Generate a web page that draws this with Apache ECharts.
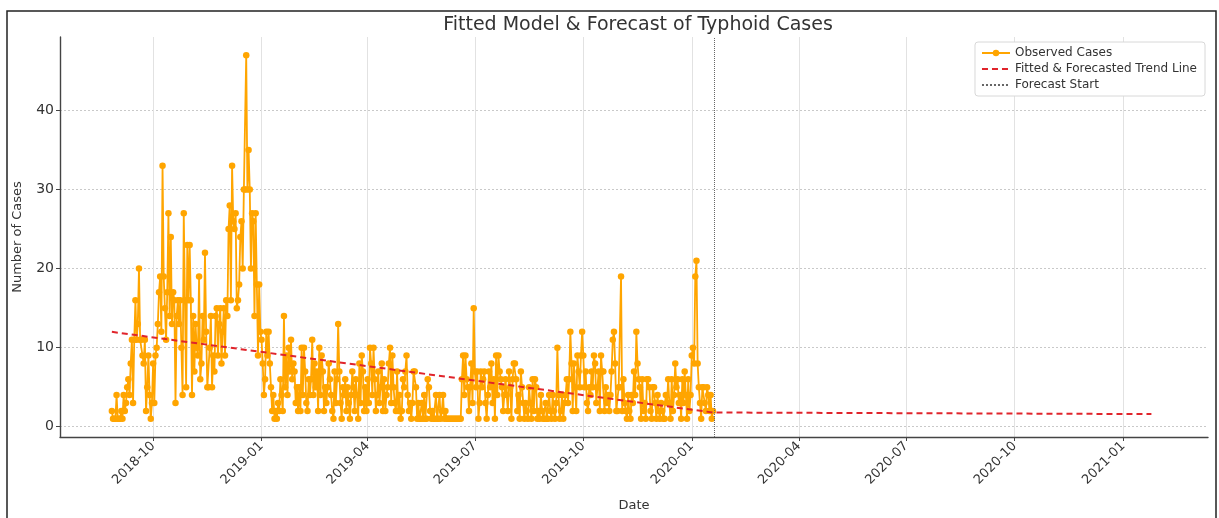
<!DOCTYPE html>
<html><head><meta charset="utf-8">
<script src="https://cdn.jsdelivr.net/npm/echarts@6/dist/echarts.min.js"></script>
<style>html,body{margin:0;padding:0;background:#fff}#c{width:1219px;height:518px}</style>
</head><body><div id="c"></div>
<script>
// ---- data ----
const observedStart = '2018-08-27';
const observedCases = [
  2, 1, 1, 1, 4, // Aug 2018 (27-31)
  1, 1, 1, 2, 1, 4, 2, 3, 5, 6, 4, 8, 11, 3, 11, 16, 11, 13, 20, 11, 11, 9, 8, 11, 2, 5, 9, 4, 1, 3, // Sep
  8, 3, 9, 10, 13, 17, 19, 12, 33, 19, 15, 11, 17, 27, 14, 24, 13, 17, 16, 3, 14, 16, 13, 16, 10, 4, 27, 16, 5, 23, 16, // Oct
  23, 16, 4, 14, 7, 13, 10, 9, 19, 6, 8, 14, 11, 22, 12, 5, 5, 10, 14, 5, 9, 7, 14, 15, 9, 13, 15, 8, 12, 15, // Nov
  9, 16, 14, 25, 28, 16, 33, 26, 25, 27, 15, 16, 18, 24, 26, 20, 30, 30, 47, 30, 35, 30, 20, 27, 26, 14, 27, 18, 9, 18, 12, // Dec
  11, 8, 4, 6, 12, 9, 12, 8, 5, 2, 4, 1, 2, 1, 3, 2, 6, 4, 2, 14, 5, 9, 4, 10, 7, 11, 6, 8, 7, 3, 5, // Jan 2019
  2, 5, 2, 10, 4, 10, 7, 3, 2, 6, 4, 6, 11, 4, 8, 5, 7, 2, 10, 4, 9, 7, 2, 5, 3, 5, 8, 6, // Feb
  4, 2, 1, 7, 3, 6, 13, 7, 3, 1, 5, 4, 6, 2, 5, 3, 1, 4, 7, 5, 2, 6, 4, 1, 8, 3, 9, 7, 2, 5, 2, // Mar
  6, 3, 10, 8, 4, 10, 6, 2, 4, 7, 3, 5, 8, 2, 6, 2, 4, 5, 8, 10, 3, 9, 5, 3, 2, 7, 2, 4, 1, 2, // Apr
  6, 5, 7, 9, 4, 2, 3, 1, 3, 7, 7, 5, 1, 3, 1, 1, 3, 1, 4, 1, 1, 6, 5, 2, 1, 2, 1, 1, 4, 1, 1, // May
  4, 1, 2, 4, 1, 2, 1, 1, 1, 1, 1, 1, 1, 1, 1, 1, 1, 1, 1, 6, 9, 4, 9, 6, 5, 2, 5, 8, 3, 15, // Jun
  7, 5, 7, 1, 3, 7, 5, 6, 7, 3, 1, 4, 7, 5, 8, 3, 6, 1, 9, 4, 9, 7, 6, 5, 2, 4, 6, 4, 2, 7, 5, // Jul
  1, 6, 8, 8, 6, 2, 4, 1, 7, 5, 3, 1, 3, 2, 1, 5, 3, 1, 6, 2, 6, 5, 1, 2, 1, 4, 2, 1, 1, 3, 1, // Aug
  1, 4, 2, 1, 4, 2, 1, 3, 10, 4, 1, 2, 4, 1, 3, 4, 6, 3, 6, 12, 8, 2, 8, 5, 2, 9, 7, 5, 9, 12, // Sep
  9, 5, 7, 3, 2, 5, 4, 7, 5, 9, 8, 3, 5, 7, 2, 9, 7, 7, 2, 5, 3, 4, 2, 4, 7, 11, 12, 8, 2, 2, 5, // Oct
  5, 19, 2, 6, 3, 2, 1, 4, 2, 1, 4, 3, 7, 4, 12, 8, 6, 5, 1, 6, 2, 3, 1, 6, 6, 5, 2, 1, 5, 5, // Nov
  3, 1, 4, 2, 1, 3, 2, 1, 1, 4, 3, 6, 3, 1, 6, 2, 4, 8, 5, 6, 3, 4, 1, 6, 3, 7, 4, 1, 6, 2, 4, // Dec
  9, 10, 8, 19, 21, 8, 5, 3, 1, 5, 5, 3, 2, 5, 4, 2, 4, 1, 2 // Jan 2020 (1-19)
];
const trendDates = ['2018-08-27', '2020-01-19', '2021-01-25'];
const trendValues = [12.0, 1.8, 1.6];
const forecastStart = '2020-01-20';
const xTickLabels = ['2018-10', '2019-01', '2019-04', '2019-07', '2019-10', '2020-01', '2020-04', '2020-07', '2020-10', '2021-01'];
const yTickValues = [0, 10, 20, 30, 40];
const xRange = ['2018-07-14', '2021-03-14'];
const yRange = [-1.3, 49.3];

// ---- build ----
function toTime(s) { const p = s.split('-').map(Number); return Date.UTC(p[0], p[1] - 1, p[2] || 1); }
const s0 = observedStart.split('-').map(Number);
const obsData = observedCases.map((v, i) => [Date.UTC(s0[0], s0[1] - 1, s0[2] + i), v]);
const trendData = trendDates.map((d, i) => [toTime(d), trendValues[i]]);
const xTicks = xTickLabels.map(toTime);
function fmt(v) { const d = new Date(v); return d.getUTCFullYear() + '-' + String(d.getUTCMonth() + 1).padStart(2, '0'); }

const FONT = 'DejaVu Sans';
const chart = echarts.init(document.getElementById('c'), null, { renderer: 'canvas' });
chart.setOption({
  animation: false,
  backgroundColor: '#fff',
  textStyle: { fontFamily: FONT },
  title: {
    text: 'Fitted Model & Forecast of Typhoid Cases',
    left: 633, textAlign: 'center', top: 11,
    textStyle: { fontFamily: FONT, fontSize: 19, fontWeight: 'normal', color: '#333' }
  },
  legend: {
    orient: 'vertical', right: 14, top: 42,
    data: [
      { name: 'Observed Cases' },
      { name: 'Fitted & Forecasted Trend Line', itemStyle: { opacity: 0 } },
      { name: 'Forecast Start', itemStyle: { opacity: 0 } }
    ],
    backgroundColor: '#fff', borderColor: '#d8d8d8', borderWidth: 1, borderRadius: 3,
    padding: [5, 8, 5, 6], itemGap: 4, itemWidth: 28, itemHeight: 8,
    textStyle: { fontFamily: FONT, fontSize: 12, color: '#333' }
  },
  grid: { left: 60, right: 11, top: 37, bottom: 81 },
  xAxis: {
    type: 'value', min: toTime(xRange[0]), max: toTime(xRange[1]),
    name: 'Date', nameLocation: 'middle', nameGap: 62,
    nameTextStyle: { fontFamily: FONT, fontSize: 13, color: '#333' },
    axisLine: { show: true, onZero: false, lineStyle: { color: '#444', width: 1.4 } },
    axisTick: { show: true, customValues: xTicks, length: 4, lineStyle: { color: '#444' } },
    axisLabel: { customValues: xTicks, rotate: 45, formatter: fmt, color: '#333', fontSize: 13, margin: 7, fontFamily: FONT, hideOverlap: false },
    splitLine: { show: true, lineStyle: { color: '#e2e2e2', width: 1 } }
  },
  yAxis: {
    type: 'value', min: yRange[0], max: yRange[1],
    name: 'Number of Cases', nameLocation: 'middle', nameGap: 36,
    nameTextStyle: { fontFamily: FONT, fontSize: 13, color: '#333' },
    axisLine: { show: true, lineStyle: { color: '#444', width: 1.4 } },
    axisTick: { show: true, customValues: yTickValues, length: 4, lineStyle: { color: '#444' } },
    axisLabel: { customValues: yTickValues, color: '#333', fontSize: 14, margin: 6, fontFamily: FONT },
    splitLine: { show: true, lineStyle: { color: '#c9c9c9', width: 1, type: [2, 2] } }
  },
  series: [
    {
      name: 'Observed Cases', type: 'line', data: obsData,
      symbol: 'circle', symbolSize: 6.5, showAllSymbol: true, z: 3,
      lineStyle: { color: '#FFA500', width: 1.8 }, itemStyle: { color: '#FFA500' }
    },
    {
      name: 'Fitted & Forecasted Trend Line', type: 'line', data: trendData,
      symbol: 'none', z: 4,
      lineStyle: { color: '#e0242b', width: 2, type: [6, 4] }, itemStyle: { color: '#e0242b' }
    },
    {
      name: 'Forecast Start', type: 'line', data: [], symbol: 'none', z: 5,
      lineStyle: { color: '#666', width: 1, type: 'dotted' }, itemStyle: { color: '#666' },
      markLine: {
        silent: true, symbol: ['none', 'none'], label: { show: false },
        lineStyle: { color: '#666', width: 1, type: 'dotted' },
        data: [{ xAxis: toTime(forecastStart) }]
      }
    }
  ],
  graphic: [{
    type: 'rect', silent: true, z: 100,
    shape: { x: 7, y: 11, width: 1209, height: 530 },
    style: { fill: 'none', stroke: '#222', lineWidth: 1.5 }
  }]
});
</script></body></html>
